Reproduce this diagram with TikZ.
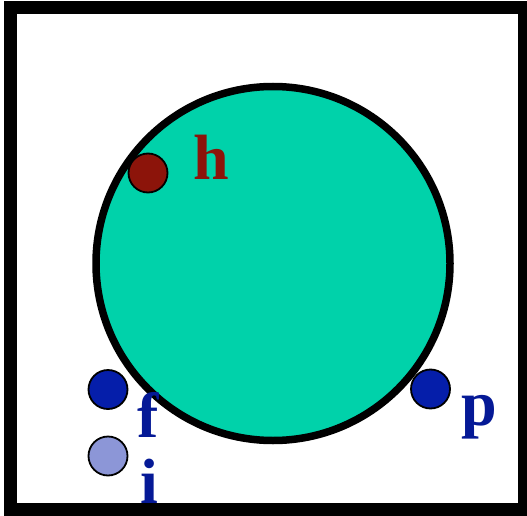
\documentclass[tikz,border=0pt]{standalone}
\usepackage{fontspec}
\setmainfont{Liberation Serif}
\definecolor{teal1}{RGB}{0,210,170}
\definecolor{hred}{RGB}{140,20,10}
\definecolor{dblue}{RGB}{5,30,170}
\definecolor{tblue}{RGB}{5,25,150}
\definecolor{lblue}{RGB}{140,150,215}
\begin{document}
\begin{tikzpicture}[x=1pt,y=-1pt,
  dot/.style={circle,draw=black,line width=1.8pt,minimum size=39pt,inner sep=0pt},
  lab/.style={font=\fontsize{64}{64}\selectfont\bfseries,anchor=base west,inner sep=0pt}]
\useasboundingbox (0,0) rectangle (527,516);
\fill[white] (0,0) rectangle (527,516);
\node[circle,draw=black,fill=teal1,line width=7.5pt,minimum size=354pt,inner sep=0pt] (big) at (273,263.5) {};
\node[dot,fill=hred] (hd) at (148,173) {};
\node[dot,fill=dblue] (fd) at (108,389.5) {};
\node[dot,fill=lblue] (id) at (108,456) {};
\node[dot,fill=dblue] (pd) at (430.5,389) {};
\node[lab,text=hred] (hl) at (193,179) {h};
\node[lab,text=tblue] (fl) at (137,437) {f};
\node[lab,text=tblue] (il) at (140,503) {i};
\node[lab,text=tblue] (pl) at (461,425) {p};
\draw[line width=13pt] (10.5,8) rectangle (524.5,509);
\end{tikzpicture}
\end{document}
